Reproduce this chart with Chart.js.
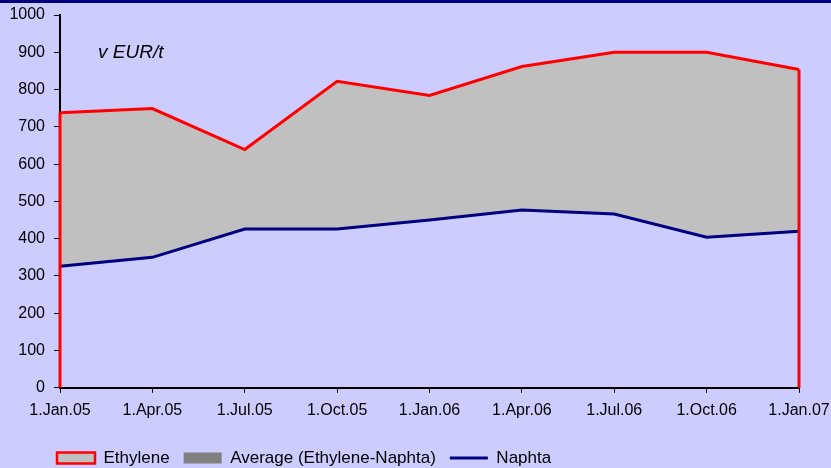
<!DOCTYPE html>
<html>
<head>
<meta charset="utf-8">
<script src="https://cdn.jsdelivr.net/npm/chart.js"></script>
<style>
  body { margin: 0; background: #ccccff; }
  #wrap { position: relative; width: 831px; height: 468px; border-top: 3px solid #000080; box-sizing: border-box; }
  #chart { display: block; }
  #unit { position: absolute; left: 98px; top: 38px; font: italic 19px "Liberation Sans", Arial, sans-serif; color: #000; }
</style>
</head>
<body>
<div id="wrap">
  <canvas id="chart" width="831" height="465"></canvas>
  <div id="unit">v EUR/t</div>
</div>
<script>
// data (EUR/t)
const labels = ['1.Jan.05', '1.Apr.05', '1.Jul.05', '1.Oct.05', '1.Jan.06', '1.Apr.06', '1.Jul.06', '1.Oct.06', '1.Jan.07'];
const ethylene = [738, 749, 639, 822, 784, 862, 900, 900, 854];
const naphta = [326, 350, 426, 426, 450, 477, 466, 404, 420];
const average = [];

Chart.defaults.font.family = '"Liberation Sans", Arial, sans-serif';
Chart.defaults.color = '#000';

// the Excel area border runs down to 0 at both ends
const edgeLines = {
  id: 'edgeLines',
  afterDatasetsDraw(chart) {
    const meta = chart.getDatasetMeta(0);
    const y0 = chart.scales.y.getPixelForValue(0);
    const ctx = chart.ctx;
    ctx.save();
    ctx.strokeStyle = '#ff0000';
    ctx.lineWidth = 3;
    [0, ethylene.length - 1].forEach(i => {
      const p = meta.data[i];
      ctx.beginPath();
      ctx.moveTo(p.x, p.y);
      ctx.lineTo(p.x, y0);
      ctx.stroke();
    });
    ctx.restore();
  }
};

// legend sits left of centre in the original
const legendShift = {
  id: 'legendShift',
  afterLayout(chart) {
    chart.legend.left = 43;
  }
};

const axisStyle = {
  grid: { display: true, drawOnChartArea: false, drawTicks: true, tickLength: 6, color: '#000', lineWidth: 1 },
  border: { display: true, color: '#000', width: 2 }
};

new Chart(document.getElementById('chart'), {
  type: 'line',
  data: {
    labels: labels,
    datasets: [{
      label: 'Ethylene',
      data: ethylene,
      borderColor: '#ff0000',
      borderWidth: 3,
      backgroundColor: '#c0c0c0',
      fill: 2,
      pointRadius: 0,
      tension: 0,
      order: 1
    }, {
      label: 'Average (Ethylene-Naphta)',
      data: average,
      backgroundColor: '#808080',
      borderColor: '#808080',
      pointRadius: 0,
      order: 2
    }, {
      label: 'Naphta',
      data: naphta,
      borderColor: '#000080',
      borderWidth: 3,
      fill: false,
      pointRadius: 0,
      tension: 0,
      order: 0
    }]
  },
  options: {
    responsive: false,
    animation: false,
    layout: { padding: { top: 12, right: 0, bottom: -8.5, left: 0 } },
    scales: {
      x: Object.assign({}, axisStyle, {
        grid: Object.assign({}, axisStyle.grid, { tickLength: 5 }),
        ticks: { font: { size: 16 }, color: '#000', maxRotation: 0, autoSkip: false, padding: 8 },
        afterFit(scale) {
          scale.height += 7.5;
          scale.paddingRight = 32;
        }
      }),
      y: Object.assign({}, axisStyle, {
        min: 0,
        max: 1000,
        ticks: { stepSize: 100, font: { size: 16 }, color: '#000', padding: 9, callback: v => String(v) },
        afterFit(scale) {
          scale.width = 60;
          scale.paddingTop = 0;
        }
      })
    },
    plugins: {
      tooltip: { enabled: false },
      legend: {
        position: 'bottom',
        align: 'start',
        labels: {
          usePointStyle: true,
          pointStyleWidth: 38,
          boxHeight: 11,
          padding: 14,
          color: '#000',
          font: { size: 17 },
          generateLabels: () => [
            { text: 'Ethylene', fillStyle: '#c0c0c0', strokeStyle: '#ff0000', lineWidth: 2.5, pointStyle: 'rect', datasetIndex: 0 },
            { text: 'Average (Ethylene-Naphta)', fillStyle: '#808080', strokeStyle: '#808080', lineWidth: 0, pointStyle: 'rect', datasetIndex: 1 },
            { text: 'Naphta', fillStyle: '#000080', strokeStyle: '#000080', lineWidth: 3, pointStyle: 'line', datasetIndex: 2 }
          ]
        }
      }
    }
  },
  plugins: [edgeLines, legendShift]
});
</script>
</body>
</html>
